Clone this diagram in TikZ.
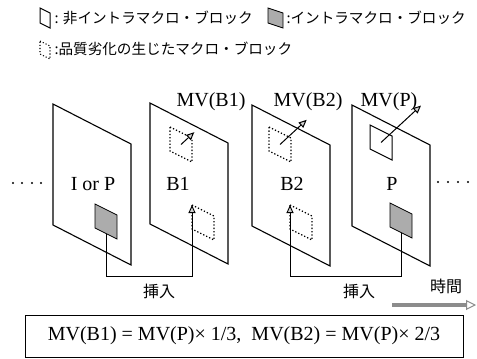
\documentclass[tikz,border=0pt]{standalone}
\usepackage{fontspec}
\setmainfont{Liberation Serif}
\newfontfamily\jp{Noto Sans CJK JP}
\usetikzlibrary{arrows.meta}

\tikzset{
  frm/.style={draw,line width=1.1pt},
  blkgray/.style={draw,fill=gray!65,line width=0.8pt},
  blkdot/.style={draw,dotted,line width=1.3pt},
  blksol/.style={draw,line width=1pt},
  mv/.style={line width=1pt,-{Triangle[length=8pt,width=7pt,fill=gray!35]}},
  ins/.style={line width=0.9pt,-{Triangle[length=8pt,width=7pt,fill=gray!35]}},
  lbl/.style={font=\fontsize{20}{22}\selectfont},
  jptext/.style={font=\jp\fontsize{14.6}{16}\selectfont},
  jpins/.style={font=\jp\fontsize{16}{18}\selectfont},
}

% block: style, name, x, y (top left corner)
\newcommand{\mblk}[4]{%
  \draw[#1] (#3,#4) coordinate (#2) -- ++(22,11) -- ++(0,24) -- ++(-22,-11) -- cycle;
  \coordinate (#2c) at ([shift={(11,17.5)}]#2);
  \coordinate (#2b) at ([shift={(11,30)}]#2);
}

\begin{document}
\begin{tikzpicture}[x=1pt,y=-1pt]
        \useasboundingbox (0,0) rectangle (477,359);

        %%%%%%%% Legenda %%%%%%%%
        \draw[frm,line width=1pt] (40,8) -- (50,13) -- (50,28) -- (40,23) -- cycle;
        \node[jptext,anchor=west] (leg1) at (51,18) {: 非イントラマクロ・ブロック};
        \draw[blkgray] (268,8) -- (283,13) -- (283,28) -- (268,23) -- cycle;
        \node[jptext,anchor=west] (leg2) at (283,18) {:イントラマクロ・ブロック};
        \draw[blkdot,line width=1.1pt] (40,41) -- (50,46) -- (50,59) -- (40,54) -- cycle;
        \node[jptext,anchor=west] (leg3) at (51,49) {:品質劣化の生じたマクロ・ブロック};

        %%%%%%%% Frames %%%%%%%%
        \draw[frm] (53,104) -- ++(78,40) -- ++(0,121) -- ++(-78,-40) -- cycle;
        \draw[frm] (150,103) -- ++(78,40) -- ++(0,121) -- ++(-78,-40) -- cycle;
        \draw[frm] (252,105) -- ++(78,40) -- ++(0,121) -- ++(-78,-40) -- cycle;
        \draw[frm] (352,105) -- ++(78,40) -- ++(0,121) -- ++(-78,-40) -- cycle;

        \node[lbl] (lIP) at (93,184) {I or P};
        \node[lbl] (lB1) at (178,184) {B1};
        \node[lbl] (lB2) at (292,184) {B2};
        \node[lbl] (lP) at (392,184) {P};

        %%%%%%%% Dots %%%%%%%%
        \fill (13,183) circle (1.2) (22,183) circle (1.2) (32,183) circle (1.2) (41,183) circle (1.2);
        \fill (438,182) circle (1.2) (448,182) circle (1.2) (458,182) circle (1.2) (468,182) circle (1.2);

        %%%%%%%% Blocks %%%%%%%%
        \mblk{blkgray}{g1}{95}{204}
        \mblk{blkdot}{d1t}{170}{127}
        \mblk{blkdot}{d1b}{192}{205}
        \mblk{blkdot}{d2t}{269}{127}
        \mblk{blkdot}{d2b}{290}{205}
        \mblk{blksol}{s4}{370}{125}
        \mblk{blkgray}{g4}{390}{203}

        %%%%%%%% Motion vectors %%%%%%%%
        \coordinate (mvB1) at ([shift={(13.3,-12.3)}]d1tc);
        \coordinate (mvB2) at ([shift={(26.7,-24.7)}]d2tc);
        \coordinate (mvP) at ([shift={(40,-37)}]s4c);
        \draw[mv] (d1tc) -- (mvB1);
        \draw[mv] (d2tc) -- (mvB2);
        \draw[mv] (s4c) -- (mvP);
        \node[lbl,anchor=base] (tB1) at (211,106) {MV(B1)};
        \node[lbl,anchor=base] (tB2) at (308,106) {MV(B2)};
        \node[lbl,anchor=base] (tP) at (389,106) {MV(P)};

        %%%%%%%% Insertion %%%%%%%%
        \coordinate (lvl) at (0,276);
        \draw[ins] (g1b) -- (g1b |- lvl) -| (d1b);
        \draw[ins] (g4b) -- (g4b |- lvl) -| (d2b);
        \node[jpins] (ins1) at (159,291) {挿入};
        \node[jpins] (ins2) at (359,291) {挿入};

        %%%%%%%% Time %%%%%%%%
        \node[jpins] (tm) at (446,286) {時間};
        \coordinate (t0) at (392,305);
        \coordinate (t1) at (476,305);
        \draw[gray!90,line width=3.5pt,-{Triangle[length=10pt,width=10pt,fill=white,color=gray!90,line width=1pt]}] (t0) -- (t1);

        %%%%%%%% Formula %%%%%%%%
        \node[draw,line width=1pt,minimum width=438pt,minimum height=42pt,lbl] (eq) at (244,336)
          {MV(B1) = MV(P)× 1/3,\ \ MV(B2) = MV(P)× 2/3};
    \end{tikzpicture}
\end{document}
